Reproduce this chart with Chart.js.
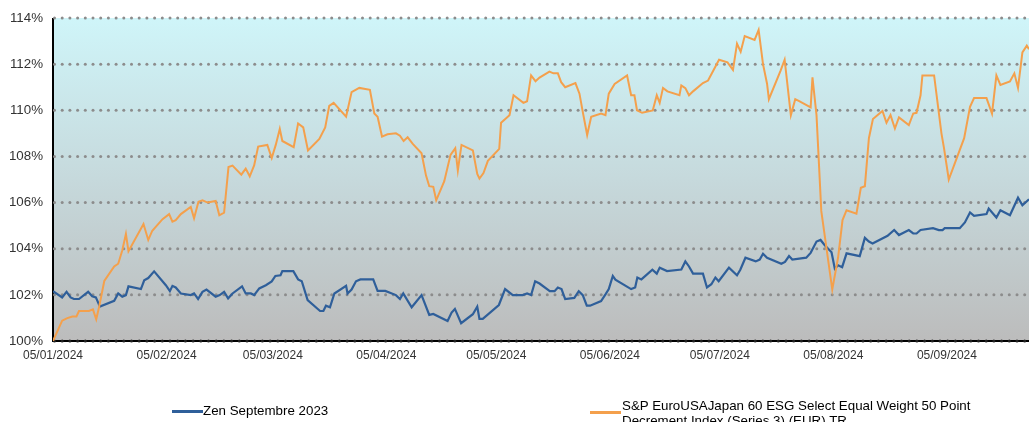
<!DOCTYPE html>
<html>
<head>
<meta charset="utf-8">
<title>Zen Septembre 2023</title>
<script src="https://cdn.jsdelivr.net/npm/chart.js@4.4.1/dist/chart.umd.min.js"></script>
<style>
    html, body { margin: 0; padding: 0; background: #fff; }
    #wrap { position: relative; width: 1029px; height: 422px; overflow: hidden; }
    #perfChart { position: absolute; left: 0; top: 0; }
    .legend-item { position: absolute; font: 13.33px "Liberation Sans", Arial, sans-serif; color: #000; line-height: 15px; }
    .swatch { position: absolute; width: 31px; height: 3px; }
</style>
</head>
<body>
<div id="wrap">
    <canvas id="perfChart" width="1029" height="422"></canvas>
    <div class="swatch" style="left:172px; top:410px; background:#2f5f9a;"></div>
    <div class="legend-item" style="left:203px; top:403px;">Zen Septembre 2023</div>
    <div class="swatch" style="left:590px; top:411px; background:#f4a04c;"></div>
    <div class="legend-item" style="left:622px; top:398px; width:360px;">S&amp;P EuroUSAJapan 60 ESG Select Equal Weight 50 Point Decrement Index (Series 3) (EUR) TR</div>
</div>
<script>
// x axis = days since 05/01/2024
const tickDays = [0, 31, 60, 91, 121, 152, 182, 213, 244];
const tickLabels = ['05/01/2024', '05/02/2024', '05/03/2024', '05/04/2024', '05/05/2024',
    '05/06/2024', '05/07/2024', '05/08/2024', '05/09/2024'];
const lastDay = 266.4;

const zenDays = [0, 2.5, 3.7, 4.8, 5.7, 7.1, 9.6, 10.7, 11.7, 12.8, 16.7, 17.8, 18.9, 19.9, 20.6, 24.0, 24.9, 26.0, 27.6,
    30.8, 31.9, 32.6, 33.5, 34.9, 37.6, 38.5, 39.6, 40.8, 41.9, 44.4, 45.5, 46.7, 47.8, 49.0, 51.6, 52.6, 54.0, 54.9,
    56.3, 58.1, 59.7, 60.7, 62.1, 62.6, 65.6, 66.9, 67.9, 69.5, 72.9, 73.8, 74.5, 75.6, 76.8, 80.0, 80.4, 81.5, 82.7,
    83.9, 87.4, 88.6, 90.7, 93.6, 94.7, 95.6, 97.9, 100.6, 102.7, 103.8, 107.7, 108.8, 109.7, 111.4, 114.6, 115.8,
    116.4, 117.3, 121.7, 123.4, 125.5, 128.2, 129.4, 130.5, 131.6, 132.8, 135.6, 136.9, 137.8, 138.8, 139.8, 142.3,
    143.5, 144.6, 145.7, 146.6, 149.6, 150.8, 151.7, 152.8, 153.5, 157.8, 158.9, 159.5, 160.6, 163.6, 164.8, 165.6,
    167.6, 171.5, 172.6, 173.6, 174.7, 177.4, 178.5, 179.7, 180.8, 181.7, 184.5, 186.7, 187.6, 189.0, 191.8, 192.9,
    193.8, 194.9, 198.8, 199.8, 200.9, 201.8, 205.6, 206.8, 208.4, 209.5, 210.6, 212.5, 213.4, 214.3, 215.4, 216.6,
    220.2, 221.6, 222.7, 223.7, 227.8, 229.6, 230.9, 233.6, 234.8, 235.7, 236.8, 240.2, 241.8, 242.8, 243.4, 247.5,
    248.9, 250.3, 251.4, 254.8, 255.4, 257.5, 258.6, 261.2, 263.4, 264.6, 266.4];
const zenValues = [102.16, 101.89, 102.13, 101.89, 101.82, 101.82, 102.13, 101.94, 101.89, 101.49, 101.74, 102.06,
    101.92, 101.99, 102.37, 102.25, 102.63, 102.73, 103.02, 102.42, 102.16, 102.39, 102.32, 102.06, 101.99, 102.06,
    101.82, 102.13, 102.23, 101.92, 101.99, 102.13, 101.85, 102.06, 102.37, 102.06, 102.06, 101.99, 102.28, 102.42,
    102.58, 102.82, 102.85, 103.03, 103.03, 102.67, 102.59, 101.77, 101.30, 101.30, 101.53, 101.46, 102.06, 102.39,
    102.06, 102.23, 102.59, 102.67, 102.67, 102.17, 102.17, 101.99, 101.82, 102.06, 101.46, 101.99, 101.13, 101.17,
    100.87, 101.23, 101.39, 100.77, 101.16, 101.49, 100.96, 100.96, 101.56, 102.25, 101.99, 101.99, 102.06, 101.99,
    102.59, 102.49, 102.16, 102.16, 102.32, 102.25, 101.82, 101.87, 102.16, 101.99, 101.53, 101.53, 101.73, 102.02,
    102.25, 102.82, 102.66, 102.25, 102.32, 102.75, 102.67, 103.09, 102.92, 103.18, 103.03, 103.10, 103.45, 103.23,
    102.92, 102.92, 102.32, 102.46, 102.75, 102.59, 103.18, 102.85, 103.09, 103.61, 103.45, 103.53, 103.78, 103.61,
    103.35, 103.43, 103.68, 103.53, 103.61, 103.82, 104.31, 104.38, 104.16, 103.85, 103.13, 103.28, 103.20, 103.80,
    103.68, 104.47, 104.31, 104.23, 104.56, 104.81, 104.59, 104.81, 104.66, 104.66, 104.81, 104.89, 104.81, 104.81,
    104.89, 104.89, 105.14, 105.57, 105.42, 105.50, 105.74, 105.35, 105.67, 105.45, 106.21, 105.88, 106.14];

const spDays = [0, 2.5, 3.9, 5.3, 6.4, 7.1, 9.8, 10.9, 11.8, 12.6, 14.0, 16.7, 17.8, 18.9, 19.9, 20.6, 24.7, 26.0, 27.1,
    29.9, 31.7, 32.6, 33.5, 34.9, 37.6, 38.5, 39.7, 40.8, 42.2, 44.4, 45.4, 46.7, 47.9, 49.0, 51.4, 52.6, 53.7, 54.9,
    56.0, 58.5, 59.7, 60.8, 61.9, 62.6, 65.7, 66.9, 68.3, 69.6, 72.7, 74.3, 75.4, 76.6, 80.0, 81.5, 83.6, 86.5, 87.7,
    88.6, 89.8, 91.3, 93.6, 94.7, 95.7, 96.8, 98.2, 100.6, 101.8, 102.7, 103.8, 104.6, 106.8, 108.5, 109.8, 110.5,
    111.5, 114.6, 115.8, 116.4, 117.5, 118.7, 121.8, 122.3, 124.6, 125.7, 128.4, 129.4, 130.5, 131.7, 132.8, 135.5,
    136.6, 137.8, 138.7, 139.8, 142.6, 143.7, 144.6, 145.8, 146.9, 149.6, 150.8, 151.7, 153.3, 156.7, 157.8, 158.7,
    159.4, 160.8, 163.7, 164.8, 165.6, 166.5, 167.7, 171.0, 171.5, 172.6, 173.6, 174.7, 177.4, 178.8, 181.8, 184.1,
    185.6, 186.7, 187.7, 188.8, 191.5, 192.6, 193.8, 194.9, 195.4, 198.6, 199.7, 201.4, 202.6, 203.8, 206.8, 207.3,
    208.4, 209.3, 209.7, 212.7, 214.3, 215.5, 216.6, 219.3, 220.5, 221.6, 222.7, 223.8, 226.4, 227.5, 228.6, 229.8,
    230.9, 233.6, 234.8, 235.7, 236.8, 237.3, 240.5, 242.5, 243.2, 244.5, 248.7, 250.3, 251.4, 254.8, 256.3, 257.5,
    258.6, 261.2, 262.4, 263.4, 264.6, 265.8, 266.4];
const spValues = [100.00, 100.88, 100.99, 101.06, 101.06, 101.30, 101.30, 101.37, 100.94, 101.49, 102.60, 103.23,
    103.35, 103.92, 104.64, 103.89, 105.07, 104.38, 104.78, 105.28, 105.50, 105.17, 105.24, 105.50, 105.81, 105.32,
    106.04, 106.10, 106.00, 106.07, 105.45, 105.56, 107.54, 107.60, 107.21, 107.47, 107.14, 107.61, 108.43, 108.50,
    107.93, 108.50, 109.19, 108.67, 108.40, 109.43, 109.26, 108.26, 108.76, 109.26, 110.19, 110.32, 109.72, 110.79,
    110.97, 110.89, 109.86, 109.72, 108.86, 108.96, 109.00, 108.90, 108.67, 108.83, 108.54, 108.14, 107.18, 106.71,
    106.68, 106.10, 106.93, 108.07, 108.36, 107.39, 108.50, 108.26, 107.24, 107.04, 107.28, 107.81, 108.33, 109.46,
    109.79, 110.65, 110.32, 110.39, 111.51, 111.26, 111.42, 111.68, 111.60, 111.60, 111.22, 111.00, 111.18, 110.72,
    109.93, 108.93, 109.72, 109.86, 109.79, 110.72, 111.14, 111.51, 110.65, 110.65, 110.00, 109.89, 109.99, 110.65,
    110.32, 110.97, 110.82, 110.65, 111.08, 110.96, 110.65, 110.82, 111.18, 111.29, 112.19, 112.08, 111.75, 112.89,
    112.54, 113.22, 113.05, 113.48, 112.00, 111.15, 110.48, 111.72, 112.19, 109.79, 110.48, 110.39, 110.13, 111.43,
    109.79, 106.93, 105.64, 102.23, 103.63, 105.24, 105.67, 105.52, 106.64, 106.71, 108.79, 109.62, 109.97, 109.46,
    109.79, 109.21, 109.69, 109.36, 109.86, 109.89, 110.65, 111.51, 111.51, 109.00, 108.36, 107.00, 108.79, 110.15,
    110.53, 110.53, 109.86, 111.51, 111.10, 111.25, 111.60, 110.97, 112.51, 112.80, 112.65];

function toPoints(days, values) {
    return days.map((d, i) => ({ x: d, y: values[i] }));
}

// gradient plot background, dotted gridlines and black axes
const backdrop = {
    id: 'backdrop',
    beforeDatasetsDraw(chart) {
        const { ctx, chartArea: a, scales: { y } } = chart;
        ctx.save();
        const g = ctx.createLinearGradient(0, a.top, 0, a.bottom);
        g.addColorStop(0, '#cff5f9');
        g.addColorStop(0.5, '#c6d9dc');
        g.addColorStop(1, '#bcbcbc');
        ctx.fillStyle = g;
        ctx.fillRect(a.left, a.top, a.right - a.left, a.bottom - a.top);

        ctx.strokeStyle = '#000';
        ctx.lineWidth = 2;
        ctx.beginPath();
        ctx.moveTo(a.left, a.top);
        ctx.lineTo(a.left, a.bottom);
        ctx.lineTo(a.right, a.bottom);
        ctx.stroke();

        y.ticks.forEach(t => {
            const py = y.getPixelForValue(t.value);
            ctx.fillStyle = t.value === 100 ? '#222' : '#8c8c8c';
            for (let px = a.left + 1.5; px < a.right; px += 7.7) {
                ctx.beginPath();
                ctx.arc(px, py, 1.5, 0, Math.PI * 2);
                ctx.fill();
            }
        });
        ctx.restore();
    }
};

Chart.defaults.font.family = '"Liberation Sans", Arial, sans-serif';

const ctx = document.getElementById('perfChart').getContext('2d');
new Chart(ctx, {
    type: 'line',
    data: {
        datasets: [{
            label: 'Zen Septembre 2023',
            data: toPoints(zenDays, zenValues),
            borderColor: '#2f5f9a',
            borderWidth: 2.2,
            pointRadius: 0,
            order: 1
        }, {
            label: 'S&P EuroUSAJapan 60 ESG Select Equal Weight 50 Point Decrement Index (Series 3) (EUR) TR',
            data: toPoints(spDays, spValues),
            borderColor: '#f4a04c',
            borderWidth: 2,
            pointRadius: 0,
            order: 0
        }]
    },
    options: {
        responsive: false,
        animation: false,
        layout: { padding: { top: 15, right: 0, bottom: 57, left: 0 } },
        plugins: {
            legend: { display: false },
            tooltip: { enabled: false }
        },
        scales: {
            x: {
                type: 'linear',
                min: 0,
                max: lastDay,
                grid: { display: false, drawTicks: false },
                border: { display: false },
                afterBuildTicks: scale => { scale.ticks = tickDays.map(d => ({ value: d })); },
                afterFit: scale => { scale.height = 24; },
                ticks: {
                    autoSkip: false,
                    maxRotation: 0,
                    padding: 7,
                    color: '#333',
                    font: { size: 12 },
                    callback: (value, i) => tickLabels[i]
                }
            },
            y: {
                min: 100,
                max: 114,
                grid: { display: false, drawTicks: false },
                border: { display: false },
                afterFit: scale => { scale.width = 53; },
                ticks: {
                    stepSize: 2,
                    padding: 10,
                    color: '#333',
                    font: { size: 13.33 },
                    callback: value => value + '%'
                }
            }
        }
    },
    plugins: [backdrop]
});
</script>
</body>
</html>
